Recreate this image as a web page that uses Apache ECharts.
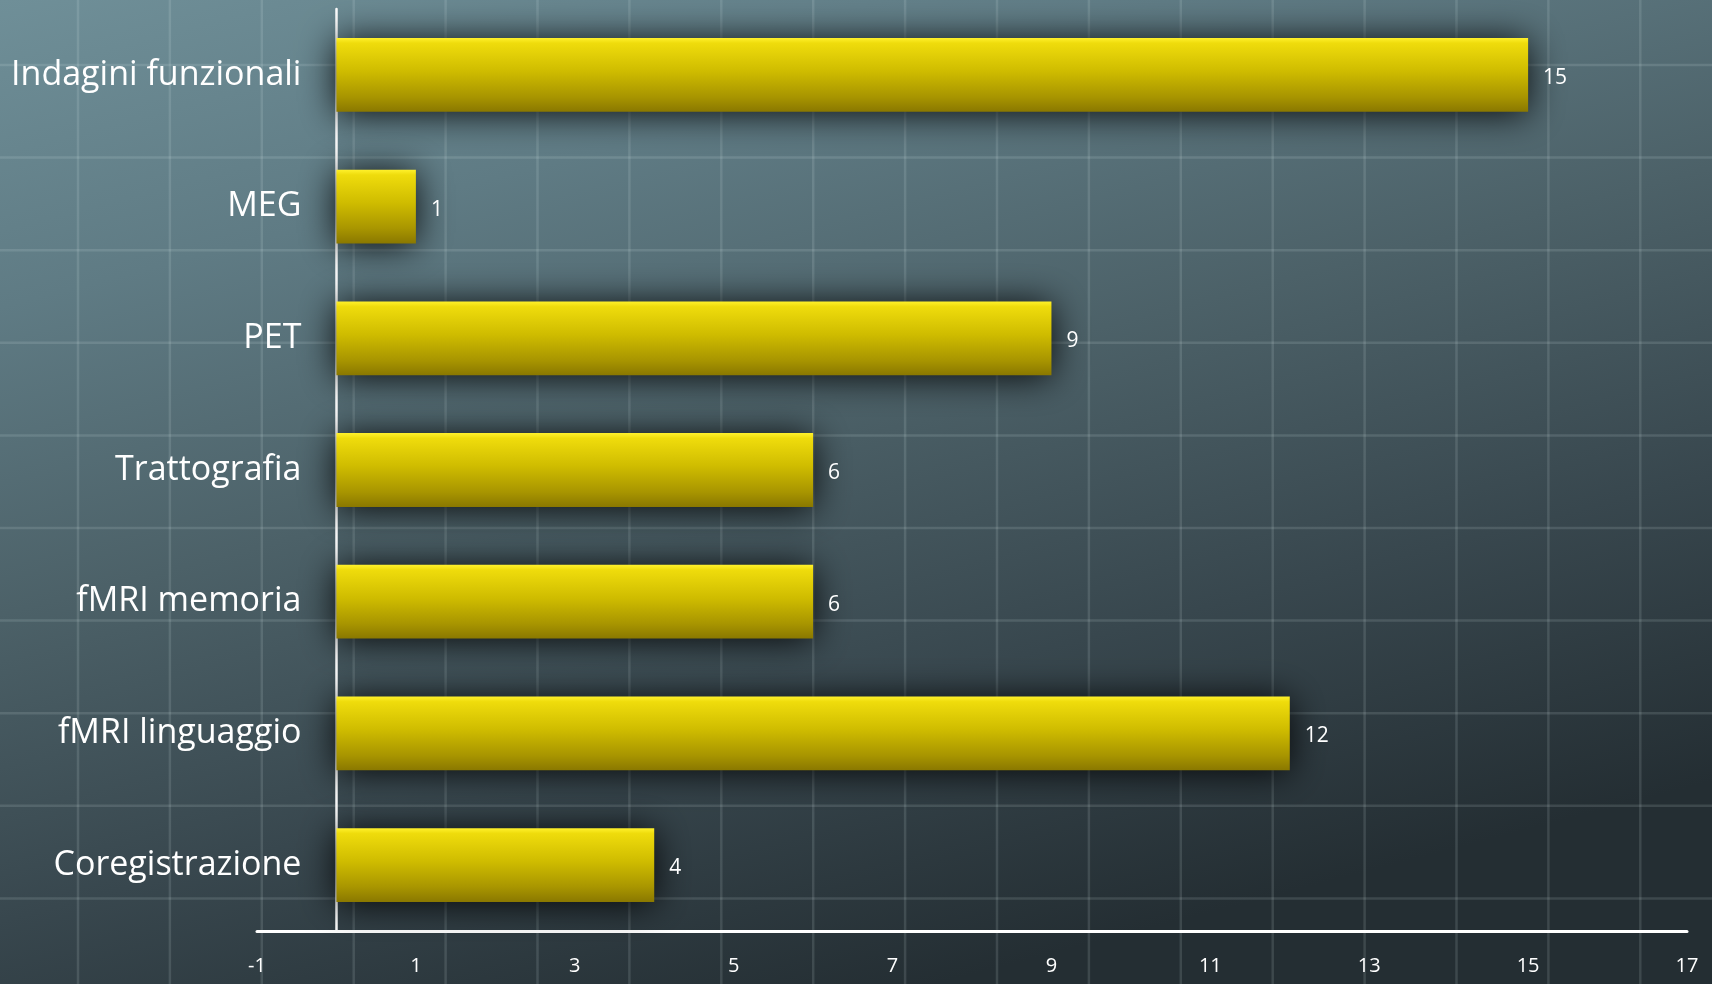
<!DOCTYPE html>
<html>
<head>
<meta charset="utf-8">
<title>Indagini</title>
<script src="https://cdn.jsdelivr.net/npm/echarts@6/dist/echarts.min.js"></script>
<style>
  html, body { margin: 0; padding: 0; width: 100%; height: 100%; overflow: hidden; background: #3e4e55; }
  #chart { width: 1712px; height: 984px; }
</style>
</head>
<body>
<div id="chart"></div>
<script>
// Categories, top to bottom
const categories = [
  'Indagini funzionali',
  'MEG',
  'PET',
  'Trattografia',
  'fMRI memoria',
  'fMRI linguaggio',
  'Coregistrazione'
];
// Number of studies per technique
const values = [15, 1, 9, 6, 6, 12, 4];
// Value axis labels
const xTickLabels = [-1, 1, 3, 5, 7, 9, 11, 13, 15, 17];

const W = 1712, H = 984;
const FONT = '"Open Sans", "DejaVu Sans", sans-serif';
const GRID = { left: 257, right: 25, top: 9, bottom: 53 };
const X_MIN = -1, X_MAX = 17;
// width of one value unit, used to put the category axis (line and labels) at x = 0
const unit = (W - GRID.left - GRID.right) / (X_MAX - X_MIN);

// Decorative backdrop: dark slate gradient with a faint drafting grid
const backdrop = [{
  type: 'rect',
  z: -10,
  silent: true,
  shape: { x: 0, y: 0, width: W, height: H },
  style: {
    fill: {
      type: 'linear', global: true,
      x: 0, y: 0, x2: 300, y2: 1150,
      colorStops: [
        { offset: 0, color: '#6f8f98' },
        { offset: 0.25, color: '#5f7b84' },
        { offset: 0.5, color: '#4c6168' },
        { offset: 0.75, color: '#38474e' },
        { offset: 1, color: '#242e33' }
      ]
    }
  }
}];
const gridStyle = { stroke: 'rgba(235,245,248,0.13)', lineWidth: 2.5, shadowBlur: 3, shadowColor: 'rgba(235,245,248,0.1)' };
for (let k = 0; k < 19; k++) {
  const x = 78 + k * 91.9;
  backdrop.push({ type: 'line', z: -9, silent: true, shape: { x1: x, y1: 0, x2: x, y2: H }, style: gridStyle });
}
for (let k = 0; k < 11; k++) {
  const y = 65 + k * 92.6;
  backdrop.push({ type: 'line', z: -9, silent: true, shape: { x1: 0, y1: y, x2: W, y2: y }, style: gridStyle });
}

const chart = echarts.init(document.getElementById('chart'), null, { renderer: 'canvas' });
chart.setOption({
  animation: false,
  backgroundColor: 'transparent',
  graphic: backdrop,
  grid: {
    left: GRID.left, right: GRID.right, top: GRID.top, bottom: GRID.bottom,
    containLabel: false,
    outerBoundsMode: 'none'
  },
  xAxis: {
    type: 'value',
    min: X_MIN,
    max: X_MAX,
    interval: 2,
    axisLine: { show: true, onZero: false, lineStyle: { color: '#ffffff', width: 3 } },
    axisTick: { show: false },
    splitLine: { show: false },
    axisLabel: {
      customValues: xTickLabels,
      color: '#ffffff',
      fontFamily: FONT,
      fontSize: 20,
      margin: 25
    }
  },
  yAxis: {
    type: 'category',
    inverse: true,
    data: categories,
    offset: -unit * (0 - X_MIN),
    axisLine: { show: true, onZero: false, lineStyle: { color: '#ffffff', width: 2.5 } },
    axisTick: { show: false },
    splitLine: { show: false },
    axisLabel: {
      color: '#ffffff',
      fontFamily: FONT,
      fontSize: 34,
      margin: 35
    }
  },
  series: [{
    type: 'bar',
    data: values,
    barWidth: '56%',
    itemStyle: {
      color: {
        type: 'linear', x: 0, y: 0, x2: 0, y2: 1,
        colorStops: [
          { offset: 0, color: '#fff12c' },
          { offset: 0.07, color: '#efdc0c' },
          { offset: 0.45, color: '#cfbc00' },
          { offset: 0.8, color: '#a89500' },
          { offset: 1, color: '#8a7800' }
        ]
      },
      shadowBlur: 36,
      shadowColor: 'rgba(0,0,0,0.9)',
      shadowOffsetX: 0,
      shadowOffsetY: 2
    },
    label: {
      show: true,
      position: 'right',
      distance: 15,
      offset: [0, 3],
      color: '#ffffff',
      fontFamily: FONT,
      fontSize: 21
    }
  }]
});
</script>
</body>
</html>
